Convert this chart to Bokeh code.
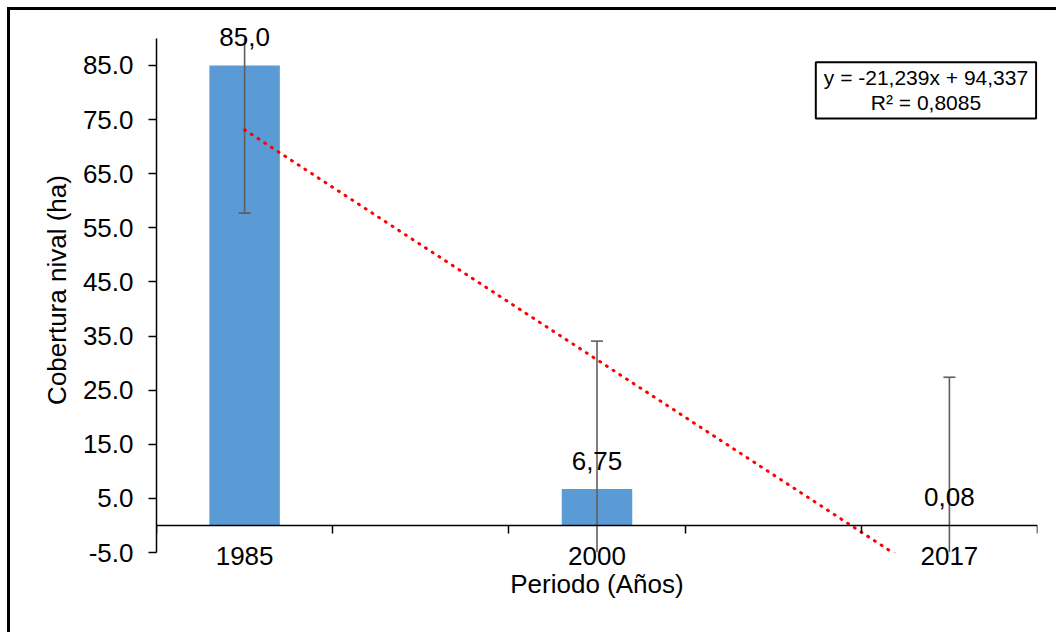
from bokeh.plotting import figure
from bokeh.models import Range1d, FixedTicker, NumeralTickFormatter, Label, LabelSet, LinearAxis, ColumnDataSource
from bokeh.core.properties import value
from bokeh.embed import file_html
from bokeh.resources import INLINE

# ---- data ----
slots = ["1985", "", "2000", "", "2017"]          # category slots on the axis
categories = ["1985", "2000", "2017"]
cobertura = [85.0, 6.75, 0.08]                    # Cobertura nival (ha)
data_labels = ["85,0", "6,75", "0,08"]
std_error = [27.3, 27.3, 27.3]
y_ticks = [-5, 5, 15, 25, 35, 45, 55, 65, 75, 85]
y_min, y_max = -5, 90
trend_slope = -21.239
trend_intercept = 94.337
trend_label = "y = -21,239x + 94,337\nR² = 0,8085"

FONT = "Liberation Sans"
BAR = "#5B9BD5"
ERR = "#5f5f5f"

pos = [slots.index(c) + 1 for c in categories]
slot_edges = [i + 0.5 for i in range(len(slots) + 1)]
label_map = {i + 1: s for i, s in enumerate(slots) if s}

# extra headroom above the axis so the top data label is not cut off
p = figure(width=1049, height=625, output_backend="svg", toolbar_location=None,
           x_range=Range1d(0.5, len(slots) + 0.5), y_range=Range1d(y_min, y_max + 2),
           min_border_left=146, min_border_right=22, min_border_top=17, min_border_bottom=83)
p.styles = {"border-top": "3px solid #000", "border-left": "3px solid #000",
            "margin-left": "7px", "margin-top": "7px"}
p.outline_line_color = None
p.xgrid.visible = False
p.ygrid.visible = False
p.background_fill_color = "white"
p.border_fill_color = "white"

# bars
p.vbar(x=pos, top=cobertura, bottom=0, width=0.4, fill_color=BAR, line_color=None)

# error bars (clipped to the value axis extent, like the original plot area)
lo = [max(v - e, y_min) for v, e in zip(cobertura, std_error)]
hi = [min(v + e, y_max) for v, e in zip(cobertura, std_error)]
p.segment(x0=pos, y0=lo, x1=pos, y1=hi, line_color=ERR, line_width=1.6)
cap_x, cap_y = [], []
for x, v, e in zip(pos, cobertura, std_error):
    for c in (v - e, v + e):
        if y_min < c < y_max:
            cap_x.append(x)
            cap_y.append(c)
p.scatter(x=cap_x, y=cap_y, marker="dash", size=12, line_color=ERR, line_width=1.6)

# linear trend line
tx = [pos[0], pos[-1]]
ty = [trend_intercept + trend_slope * x for x in tx]
p.line(tx, ty, line_color="#FF0000", line_width=3, line_dash="1 7", line_cap="round")

# data labels
lab_src = ColumnDataSource(dict(x=pos, y=cobertura, text=data_labels))
p.add_layout(LabelSet(x="x", y="y", text="text", source=lab_src, text_align="center",
                      text_baseline="alphabetic", y_offset=19, text_font=value(FONT),
                      text_font_size="26px", text_color="black"))

# equation label
p.add_layout(Label(x=4.867, y=80.4, text=trend_label, text_align="center", text_baseline="middle",
                   text_font=FONT, text_font_size="21px", text_color="black", text_line_height=1.1,
                   border_line_color="black", border_line_width=2, background_fill_color="white",
                   padding=dict(left=8, right=8, top=4, bottom=4)))

# x axis line + tick marks at y = 0
xa = p.xaxis[0]
xa.fixed_location = 0
xa.ticker = FixedTicker(ticks=[], minor_ticks=slot_edges)
xa.major_label_standoff = 0
xa.major_tick_out = 0
xa.major_tick_in = 0
xa.minor_tick_out = 8
xa.minor_tick_in = 0
xa.axis_line_color = "black"
xa.axis_line_width = 1.5
xa.minor_tick_line_color = "black"
xa.minor_tick_line_width = 1.5

# x category labels + title at the bottom
xl = LinearAxis(ticker=FixedTicker(ticks=sorted(label_map)), major_label_overrides=label_map,
                axis_label="Periodo (Años)")
xl.axis_line_color = None
xl.major_tick_line_color = None
xl.minor_tick_line_color = None
xl.major_tick_out = 0
xl.major_tick_in = 0
xl.major_label_standoff = -6
xl.axis_label_standoff = 1
p.add_layout(xl, "below")

ya = p.yaxis[0]
ya.bounds = (y_min, y_max)
ya.ticker = FixedTicker(ticks=y_ticks)
ya.formatter = NumeralTickFormatter(format="0.0")
ya.major_tick_out = 8
ya.major_tick_in = 0
ya.minor_tick_out = 0
ya.minor_tick_in = 0
ya.major_label_standoff = 15
ya.axis_label = "Cobertura nival (ha)"
ya.axis_label_standoff = 8
ya.axis_line_color = "black"
ya.axis_line_width = 1.5
ya.major_tick_line_color = "black"
ya.major_tick_line_width = 1.5

for ax in (xl, ya):
    ax.major_label_text_font = FONT
    ax.major_label_text_font_size = "26px"
    ax.major_label_text_color = "black"
    ax.axis_label_text_font = FONT
    ax.axis_label_text_font_size = "26px"
    ax.axis_label_text_font_style = "normal"
    ax.axis_label_text_color = "black"

open("out.html", "w").write(file_html(p, INLINE))
